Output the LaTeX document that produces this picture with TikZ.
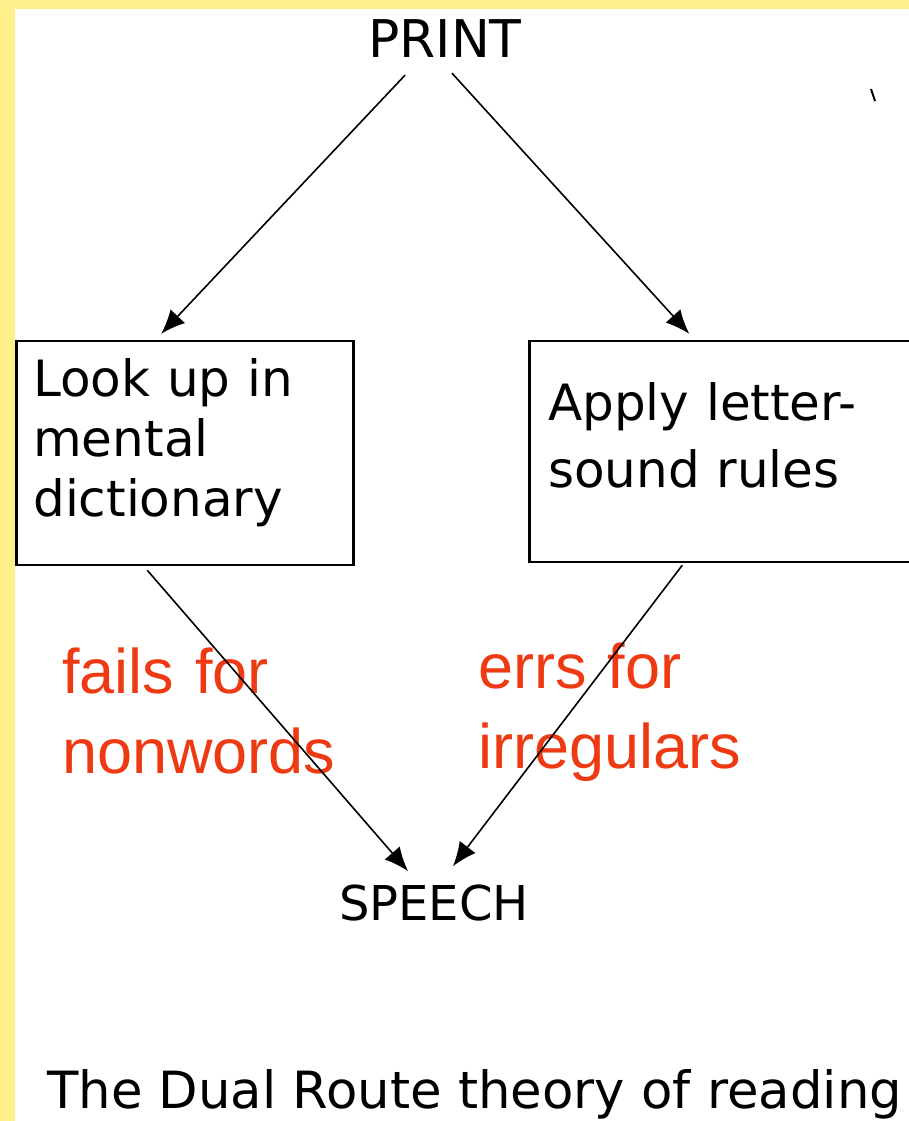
\documentclass[tikz,border=0pt]{standalone}
\usepackage{fontspec}
\setmainfont{DejaVu Sans}
\newfontfamily\redfont{Liberation Sans}
\usetikzlibrary{arrows.meta}
\definecolor{bgyellow}{RGB}{255,240,140}
\definecolor{labelred}{RGB}{238,58,18}
\tikzset{
  blk/.style={inner sep=0pt, anchor=base, font=\fontsize{#1}{#1}\selectfont},
  stagebox/.style={draw=black, line width=2.5pt, anchor=base west, inner ysep=0pt,
    align=left, font=\fontsize{50}{60}\selectfont},
  route/.style={line width=1.6pt, black, -{Latex[length=24pt,width=20pt]}},
  redlabel/.style={inner sep=0pt, anchor=base west, text=labelred, text width=320pt,
    align=left, font=\redfont\fontsize{63}{80}\selectfont},
}
\begin{document}
\begin{tikzpicture}[x=1pt,y=1pt]
  \useasboundingbox (0,0) rectangle (909,-1121);
  \fill[white] (0,0) rectangle (909,-1121);
  \fill[bgyellow] (0,0) rectangle (15,-1121);
  \fill[bgyellow] (0,0) rectangle (909,-9);

  \node[blk=52] (print) at (445,-58) {PRINT};
  \node[stagebox, inner xsep=17pt, text width=303pt, text height=55pt, text depth=169pt]
    (lbox) at (15,-396) {Look up in\\mental\\dictionary};
  \node[stagebox, inner xsep=19pt, text width=354pt, text height=79pt, text depth=142pt,
    font=\fontsize{50}{67}\selectfont]
    (rbox) at (528,-420) {Apply letter-\\sound rules};
  \node[blk=48] (speech) at (434,-920) {SPEECH};

  \node[redlabel] (fails) at (62,-693) {fails for\\nonwords};
  \node[redlabel] (errs) at (478,-688) {errs for\\irregulars};

  \node[inner sep=0pt, anchor=base west, font=\fontsize{51.3}{52}\selectfont]
    (caption) at (47,-1108) {The Dual Route theory of reading};

  \draw[route] ([shift={(-40pt,-17pt)}]print.south) -- ([shift={(-23.5pt,6pt)}]lbox.north);
  \draw[route] ([shift={(7pt,-15pt)}]print.south) -- ([shift={(-36pt,6pt)}]rbox.north);
  \draw[route] ([shift={(-37.5pt,-4pt)}]lbox.south) -- ([shift={(-26pt,13pt)}]speech.north);
  \draw[route] ([shift={(-43pt,-2pt)}]rbox.south) -- ([shift={(19pt,18pt)}]speech.north);

  \draw[line width=2pt] (871,-89) -- (875,-101);
\end{tikzpicture}
\end{document}
